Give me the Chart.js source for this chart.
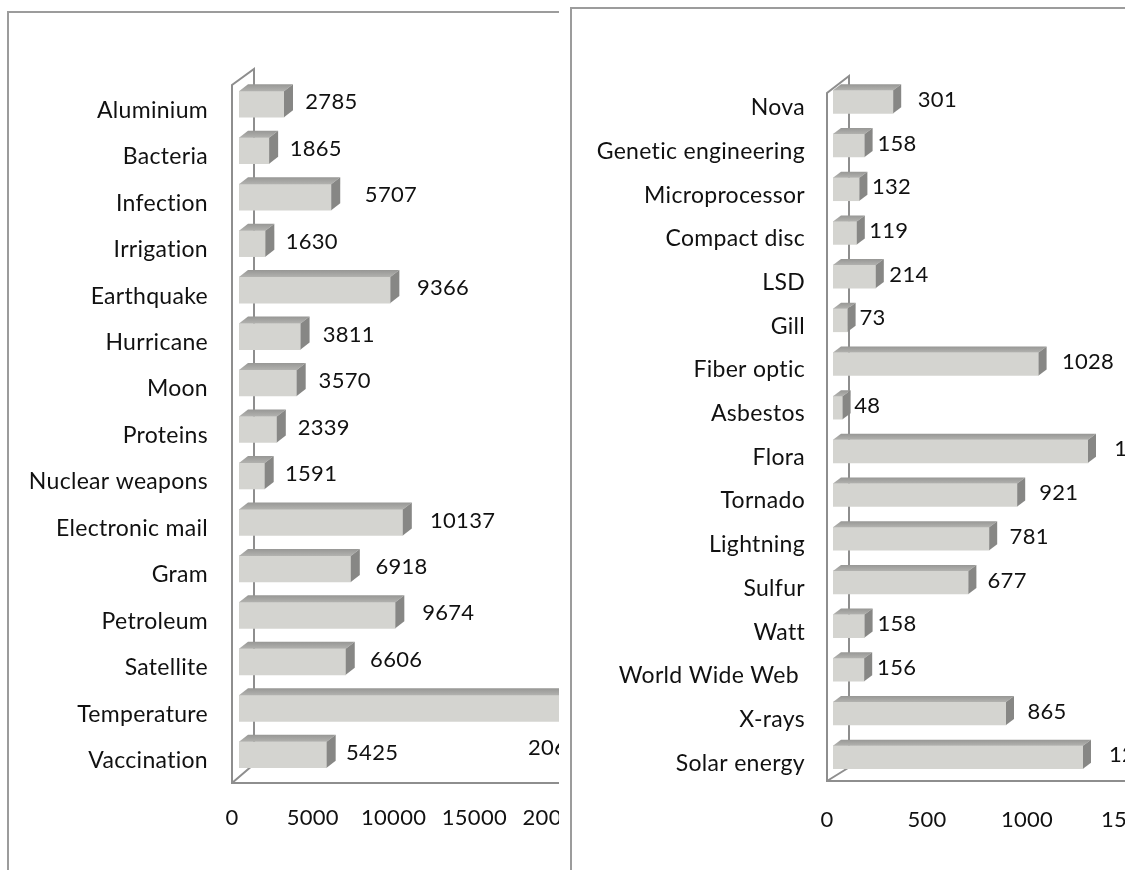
<!DOCTYPE html>
<html>
<head>
<meta charset="utf-8">
<script src="https://cdn.jsdelivr.net/npm/chart.js@4.4.1/dist/chart.umd.min.js"></script>
<style>
  html, body { margin: 0; padding: 0; background: #fff; width: 1125px; height: 870px; overflow: hidden; }
  .panel { position: absolute; box-sizing: border-box; border-left: 2px solid #9c9c9c; border-top: 2px solid #9c9c9c; overflow: hidden; background: #fff; }
  #p1 { left: 7px; top: 11px; width: 552px; height: 859px; }
  #p2 { left: 570px; top: 7px; width: 555px; height: 863px; }
  .panel canvas { position: absolute; left: 0; top: 0; }
</style>
</head>
<body>
<div class="panel" id="p1"><canvas id="c1" width="674" height="860"></canvas></div>
<div class="panel" id="p2"><canvas id="c2" width="601" height="860"></canvas></div>
<script>
// Search-term counts, first panel
const leftCategories = ['Aluminium', 'Bacteria', 'Infection', 'Irrigation', 'Earthquake', 'Hurricane', 'Moon',
  'Proteins', 'Nuclear weapons', 'Electronic mail', 'Gram', 'Petroleum', 'Satellite', 'Temperature', 'Vaccination'];
const leftValues = [2785, 1865, 5707, 1630, 9366, 3811, 3570, 2339, 1591, 10137, 6918, 9674, 6606, 20600, 5425];
const leftTicks = [0, 5000, 10000, 15000, 20000, 25000];

// Search-term counts, second panel
const rightCategories = ['Nova', 'Genetic engineering', 'Microprocessor', 'Compact disc', 'LSD', 'Gill', 'Fiber optic',
  'Asbestos', 'Flora', 'Tornado', 'Lightning', 'Sulfur', 'Watt', 'World Wide Web ', 'X-rays', 'Solar energy'];
const rightValues = [301, 158, 132, 119, 214, 73, 1028, 48, 1275, 921, 781, 677, 158, 156, 865, 1250];
const rightTicks = [0, 500, 1000, 1500];

const FONT_FAMILY = 'Lato, "Open Sans", sans-serif';
const TEXT = '#111111';
const SPACING = '0.3px';

// Slight tracking on all canvas text (also keeps the face free of ligatures)
const tracking = {
  id: 'tracking',
  beforeUpdate(chart) { chart.ctx.letterSpacing = SPACING; },
  beforeDraw(chart) { chart.ctx.letterSpacing = SPACING; }
};

// Draws the pseudo-3D walls/floor behind the bars, then the top and end faces and value labels.
const box3d = {
  id: 'box3d',
  beforeDatasetsDraw(chart, args, o) {
    const { ctx, chartArea: a } = chart;
    const w = o.walls;
    ctx.save();
    ctx.strokeStyle = o.wallColor;
    ctx.lineWidth = 2;
    ctx.beginPath();
    ctx.moveTo(a.left + w.backX, a.bottom + w.backBottom);
    ctx.lineTo(a.left + w.backX, a.top + w.backTop);
    ctx.lineTo(a.left + w.frontX, a.top + w.frontTop);
    ctx.lineTo(a.left + w.frontX, a.bottom + w.frontBottom);
    ctx.lineTo(a.right + 40, a.bottom + w.frontBottom);
    ctx.moveTo(a.left + w.frontX, a.bottom + w.frontBottom);
    ctx.lineTo(a.left + w.backX - 1, a.bottom + w.backBottom);
    ctx.stroke();
    ctx.restore();
  },
  afterDatasetsDraw(chart, args, o) {
    const { ctx } = chart;
    const meta = chart.getDatasetMeta(0);
    const values = chart.data.datasets[0].data;
    ctx.save();
    meta.data.forEach((bar, i) => {
      const { x, y, base, height } = bar.getProps(['x', 'y', 'base', 'height'], true);
      const top = y - height / 2, bot = y + height / 2;
      // top face
      const g = ctx.createLinearGradient(0, top - o.dy, 0, top);
      g.addColorStop(0, o.topBack);
      g.addColorStop(1, o.topFront);
      ctx.fillStyle = g;
      ctx.beginPath();
      ctx.moveTo(base, top);
      ctx.lineTo(base + o.dx, top - o.dy);
      ctx.lineTo(x + o.dx, top - o.dy);
      ctx.lineTo(x, top);
      ctx.closePath();
      ctx.fill();
      // end face
      ctx.fillStyle = o.sideColor;
      ctx.beginPath();
      ctx.moveTo(x, top);
      ctx.lineTo(x + o.dx, top - o.dy);
      ctx.lineTo(x + o.dx, bot - o.dy);
      ctx.lineTo(x, bot);
      ctx.closePath();
      ctx.fill();
      // value label
      const len = x - base;
      let lx = x + o.gap0 + o.gap1 * len + (o.nudge[i] || 0);
      let ly = y + o.labelDy;
      if (lx > o.visibleWidth - 5) {
        lx = o.visibleWidth - o.overflowInset;
        ly = y + o.overflowDrop;
      }
      ctx.font = o.labelFont;
      ctx.fillStyle = TEXT;
      ctx.textAlign = 'left';
      ctx.textBaseline = 'middle';
      ctx.fillText(String(values[i]), lx, ly);
    });
    ctx.restore();
  }
};

function makeChart(canvasId, categories, values, ticks, g) {
  return new Chart(document.getElementById(canvasId), {
    type: 'bar',
    data: {
      labels: categories,
      datasets: [{
        data: values,
        backgroundColor: '#d4d4d0',
        borderWidth: 0,
        barThickness: g.barThickness
      }]
    },
    plugins: [tracking, box3d],
    options: {
      indexAxis: 'y',
      responsive: false,
      animation: false,
      layout: { padding: { top: g.top, bottom: g.bottom, left: 0, right: 40 } },
      plugins: {
        legend: { display: false },
        tooltip: { enabled: false },
        box3d: g.box
      },
      scales: {
        x: {
          type: 'linear',
          min: ticks[0],
          max: ticks[ticks.length - 1],
          afterBuildTicks: (s) => { s.ticks = ticks.map(v => ({ value: v })); },
          afterFit: (s) => { s.height = 80; s.paddingLeft = 0; s.paddingRight = 0; },
          grid: { display: false, drawTicks: false, tickLength: 0 },
          border: { display: false },
          ticks: {
            color: TEXT,
            font: { family: FONT_FAMILY, size: 22 },
            padding: g.xPad,
            labelOffset: g.xLabelOffset,
            maxRotation: 0,
            autoSkip: false,
            callback: (v) => String(v)
          }
        },
        y: {
          type: 'category',
          afterFit: (s) => { s.width = g.yWidth; },
          grid: { display: false, drawTicks: false, tickLength: 0 },
          border: { display: false },
          ticks: {
            color: TEXT,
            font: { family: FONT_FAMILY, size: 23 },
            padding: g.yPad,
            labelOffset: 6,
            autoSkip: false
          }
        }
      }
    }
  });
}

function drawAll() {
  makeChart('c1', leftCategories, leftValues, leftTicks, {
    barThickness: 26, top: 68, bottom: 15, yWidth: 230, yPad: 31, xPad: 27, xLabelOffset: -7,
    box: {
      dx: 9, dy: 7, wallColor: '#8e8e8e', topBack: '#979795', topFront: '#b2b2af', sideColor: '#878785',
      walls: { frontX: -7, frontTop: 4, frontBottom: 5, backX: 15, backTop: -12, backBottom: -13 },
      gap0: 19, gap1: 0.05, labelDy: -2, labelFont: '22px ' + FONT_FAMILY, nudge: { 2: 10, 14: -4 },
      visibleWidth: 550, overflowInset: 31, overflowDrop: 40
    }
  });
  makeChart('c2', rightCategories, rightValues, rightTicks, {
    barThickness: 23, top: 71, bottom: 10, yWidth: 261, yPad: 28, xPad: 28, xLabelOffset: -6,
    box: {
      dx: 8, dy: 6, wallColor: '#8e8e8e', topBack: '#979795', topFront: '#b2b2af', sideColor: '#878785',
      walls: { frontX: -6, frontTop: 13, frontBottom: 2, backX: 16, backTop: -4, backBottom: -11 },
      gap0: 11, gap1: 0.06, labelDy: -2, labelFont: '22px ' + FONT_FAMILY, nudge: { 0: 10 },
      visibleWidth: 553, overflowInset: 31, overflowDrop: 40
    }
  });
}

if (document.fonts && document.fonts.load) {
  document.fonts.load('22px Lato').then(drawAll, drawAll);
} else {
  drawAll();
}
</script>
</body>
</html>
